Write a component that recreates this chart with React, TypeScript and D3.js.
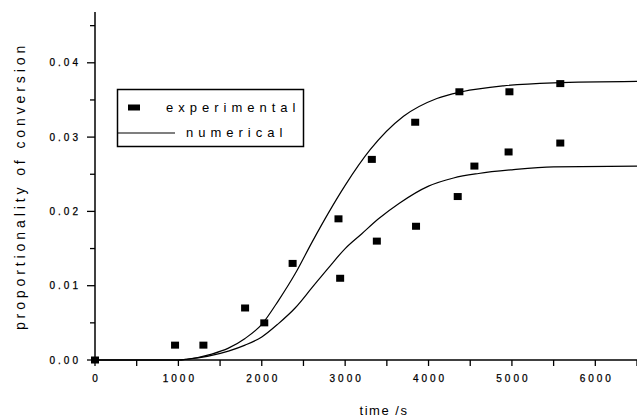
import React, { useEffect, useRef } from 'react';
import * as d3 from 'd3';

// experimental points (time in s, proportionality of conversion)
const expTime = [0, 960, 1300, 1800, 2030, 2370, 2920, 2940, 3320, 3380, 3840, 3850, 4350, 4370, 4550, 4960, 4970, 5580, 5580];
const expValue = [0, 0.002, 0.002, 0.007, 0.005, 0.013, 0.019, 0.011, 0.027, 0.016, 0.032, 0.018, 0.022, 0.0361, 0.0261, 0.028, 0.0361, 0.0372, 0.0292];

// numerical curve, upper
const upperTime = [0, 1000, 1100, 1400, 1600, 1800, 2000, 2200, 2400, 2600, 2800, 3000, 3300, 3700, 4100, 4400, 4900, 5500, 6500];
const upperValue = [0, 0, 0.0001, 0.0008, 0.0016, 0.0029, 0.0048, 0.008, 0.0116, 0.0158, 0.0198, 0.0235, 0.0283, 0.0328, 0.0352, 0.0361, 0.0369, 0.0373, 0.0375];

// numerical curve, lower
const lowerTime = [0, 1000, 1100, 1600, 1800, 2000, 2200, 2400, 2600, 2800, 3000, 3200, 3400, 3650, 4000, 4300, 4600, 5000, 5500, 6500];
const lowerValue = [0, 0, 0.0001, 0.0012, 0.002, 0.0031, 0.0049, 0.007, 0.0097, 0.0124, 0.015, 0.017, 0.019, 0.0211, 0.0234, 0.0245, 0.0251, 0.0256, 0.026, 0.0261];

const xTicks = [0, 1000, 2000, 3000, 4000, 5000, 6000];
const xMinorTicks = [500, 1500, 2500, 3500, 4500, 5500, 6500];
const yTicks = [0, 0.01, 0.02, 0.03, 0.04];
const yMinorTicks = [0.005, 0.015, 0.025, 0.035, 0.045];

const legendLabels = ['experimental', 'numerical'];

const Chart = () => {
  const svgRef = useRef<SVGSVGElement>(null);

  useEffect(() => {
    const width = 637;
    const font = 'Arial, "Liberation Sans", sans-serif';

    const svg = d3.select(svgRef.current);
    svg.selectAll('*').remove();

    const x = d3.scaleLinear().domain([0, 6500]).range([95, 637]);
    const y = d3.scaleLinear().domain([0, 0.01]).range([360, 285.7]);

    // axes
    svg.append('line')
      .attr('x1', x(0)).attr('x2', width)
      .attr('y1', y(0)).attr('y2', y(0))
      .attr('stroke', '#000').attr('stroke-width', 1.5);
    svg.append('line')
      .attr('x1', x(0)).attr('x2', x(0))
      .attr('y1', 12).attr('y2', y(0))
      .attr('stroke', '#000').attr('stroke-width', 1.5);

    // x ticks
    svg.selectAll('line.xt')
      .data([...xTicks, ...xMinorTicks])
      .enter()
      .append('line')
      .attr('class', 'xt')
      .attr('x1', (d) => x(d)).attr('x2', (d) => x(d))
      .attr('y1', y(0)).attr('y2', y(0) + 6)
      .attr('stroke', '#000').attr('stroke-width', 1.3);

    svg.selectAll('text.xl')
      .data(xTicks)
      .enter()
      .append('text')
      .attr('class', 'xl')
      .attr('x', (d) => x(d) + 1.5)
      .attr('y', 382)
      .attr('text-anchor', 'middle')
      .style('font-family', font)
      .style('font-size', '10px')
      .style('letter-spacing', '3px')
      .style('stroke', '#000')
      .style('stroke-width', '0.25px')
      .text((d) => String(d));

    // y ticks
    svg.selectAll('line.yt')
      .data(yTicks)
      .enter()
      .append('line')
      .attr('class', 'yt')
      .attr('x1', x(0) - 8).attr('x2', x(0))
      .attr('y1', (d) => y(d)).attr('y2', (d) => y(d))
      .attr('stroke', '#000').attr('stroke-width', 1.3);
    svg.selectAll('line.ym')
      .data(yMinorTicks)
      .enter()
      .append('line')
      .attr('class', 'ym')
      .attr('x1', x(0) - 5).attr('x2', x(0))
      .attr('y1', (d) => y(d)).attr('y2', (d) => y(d))
      .attr('stroke', '#000').attr('stroke-width', 1.3);

    svg.selectAll('text.yl')
      .data(yTicks)
      .enter()
      .append('text')
      .attr('class', 'yl')
      .attr('x', 81)
      .attr('y', (d) => y(d) + 3.5)
      .attr('text-anchor', 'end')
      .style('font-family', font)
      .style('font-size', '10px')
      .style('letter-spacing', '3px')
      .style('stroke', '#000')
      .style('stroke-width', '0.25px')
      .text((d) => d.toFixed(2));

    // axis titles
    svg.append('text')
      .attr('x', 384)
      .attr('y', 415)
      .attr('text-anchor', 'middle')
      .style('font-family', font)
      .style('font-size', '13px')
      .style('letter-spacing', '1.5px')
      .text('time /s');

    svg.append('text')
      .attr('transform', 'translate(25,186) rotate(-90)')
      .attr('text-anchor', 'middle')
      .style('font-family', font)
      .style('font-size', '14px')
      .style('letter-spacing', '3.9px')
      .text('proportionality of conversion');

    // curves
    const line = d3.line<[number, number]>()
      .x((d) => x(d[0]))
      .y((d) => y(d[1]))
      .curve(d3.curveMonotoneX);

    const curves = [
      upperTime.map((t, i) => [t, upperValue[i]] as [number, number]),
      lowerTime.map((t, i) => [t, lowerValue[i]] as [number, number]),
    ];
    svg.selectAll('path.num')
      .data(curves)
      .enter()
      .append('path')
      .attr('class', 'num')
      .attr('d', (d) => line(d))
      .attr('fill', 'none')
      .attr('stroke', '#000')
      .attr('stroke-width', 1.2);

    // experimental points
    svg.selectAll('rect.pt')
      .data(expTime.map((t, i) => [t, expValue[i]]))
      .enter()
      .append('rect')
      .attr('class', 'pt')
      .attr('x', (d) => x(d[0]) - 4)
      .attr('y', (d) => y(d[1]) - 3.5)
      .attr('width', 8)
      .attr('height', 7)
      .attr('fill', '#000');

    // legend
    const lg = svg.append('g');
    lg.append('rect')
      .attr('x', 117.5).attr('y', 89.5)
      .attr('width', 186).attr('height', 57)
      .attr('fill', '#fff')
      .attr('stroke', '#000').attr('stroke-width', 1.5);
    lg.append('rect')
      .attr('x', 128).attr('y', 104.5)
      .attr('width', 12).attr('height', 6)
      .attr('fill', '#000');
    lg.append('line')
      .attr('x1', 117).attr('x2', 175)
      .attr('y1', 133).attr('y2', 133)
      .attr('stroke', '#000').attr('stroke-width', 1.2);
    lg.selectAll('text')
      .data(legendLabels)
      .enter()
      .append('text')
      .attr('x', (d, i) => (i === 0 ? 166 : 186))
      .attr('y', (d, i) => (i === 0 ? 112 : 137))
      .style('font-family', font)
      .style('font-size', '13px')
      .style('letter-spacing', '5px')
      .text((d) => d);
  }, []);

  return (
    <svg
      ref={svgRef}
      width={637}
      height={418}
      style={{ position: 'absolute', left: 0, top: 0, background: '#fff' }}
    ></svg>
  );
};

export default function App() {
  return <Chart />;
}
